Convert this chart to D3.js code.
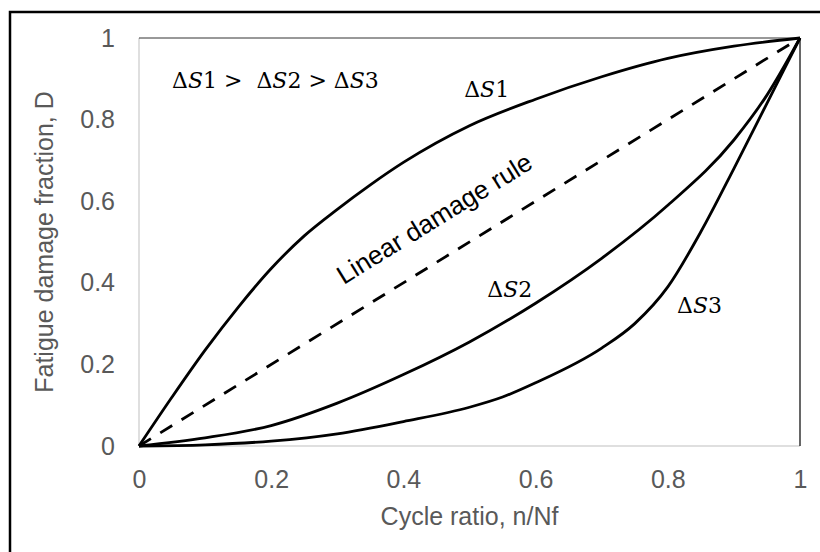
<!DOCTYPE html>
<html>
<head>
<meta charset="utf-8">
<script src="https://cdn.jsdelivr.net/npm/d3@7"></script>
<style>
  body { margin: 0; background: #fff; }
  text { font-family: "Liberation Sans", Arial, sans-serif; }
  .math { font-family: "DejaVu Serif", "Liberation Serif", serif; }
</style>
</head>
<body>
<div id="chart"></div>
<script>
// data
const xTicks = [0, 0.2, 0.4, 0.6, 0.8, 1];
const yTicks = [0, 0.2, 0.4, 0.6, 0.8, 1];

const s1X = [0, 0.05, 0.1, 0.15, 0.2, 0.25, 0.3, 0.35, 0.4, 0.5, 0.6, 0.7, 0.8, 0.9, 1];
const s1Y = [0, 0.12, 0.235, 0.34, 0.435, 0.515, 0.58, 0.64, 0.695, 0.785, 0.85, 0.905, 0.95, 0.98, 1];

const s2X = [0, 0.1, 0.2, 0.3, 0.4, 0.5, 0.6, 0.7, 0.8, 0.9, 0.95, 1];
const s2Y = [0, 0.02, 0.05, 0.105, 0.175, 0.255, 0.35, 0.46, 0.59, 0.75, 0.86, 1];

const s3X = [0, 0.1, 0.2, 0.3, 0.4, 0.5, 0.55, 0.6, 0.7, 0.75, 0.8, 0.85, 0.9, 0.95, 1];
const s3Y = [0, 0.003, 0.012, 0.03, 0.06, 0.095, 0.12, 0.155, 0.24, 0.3, 0.39, 0.525, 0.68, 0.84, 1];

const linX = [0, 1];
const linY = [0, 1];

const W = 820, H = 552;
const margin = { top: 38, right: 20, bottom: 106, left: 139 };
const width = W - margin.left - margin.right;
const height = H - margin.top - margin.bottom;

const svg = d3.select("#chart").append("svg")
    .attr("width", W)
    .attr("height", H);

// outer frame (runs off the right and bottom edges)
svg.append("rect")
    .attr("x", 10).attr("y", 12)
    .attr("width", W).attr("height", H)
    .attr("fill", "none")
    .attr("stroke", "#000")
    .attr("stroke-width", 2.5);

const g = svg.append("g")
    .attr("transform", `translate(${margin.left},${margin.top})`);

const x = d3.scaleLinear().domain([0, 1]).range([0, width]);
const y = d3.scaleLinear().domain([0, 1]).range([height, 0]);

// plot area border: grey left/bottom, dark top/right
g.append("line").attr("x1", 0).attr("x2", 0).attr("y1", 0).attr("y2", height)
    .attr("stroke", "#bfbfbf").attr("stroke-width", 1);
g.append("line").attr("x1", 0).attr("x2", width).attr("y1", height).attr("y2", height)
    .attr("stroke", "#bfbfbf").attr("stroke-width", 1);
g.append("line").attr("x1", 0).attr("x2", width).attr("y1", 0).attr("y2", 0)
    .attr("stroke", "#333").attr("stroke-width", 1);
g.append("line").attr("x1", width).attr("x2", width).attr("y1", 0).attr("y2", height)
    .attr("stroke", "#000").attr("stroke-width", 1.2);

// axes
const xAxis = g.append("g")
    .attr("transform", `translate(0,${height})`)
    .call(d3.axisBottom(x).tickValues(xTicks).tickSize(0).tickPadding(24)
        .tickFormat(d3.format("")));
const yAxis = g.append("g")
    .call(d3.axisLeft(y).tickValues(yTicks).tickSize(0).tickPadding(24)
        .tickFormat(d3.format("")));
[xAxis, yAxis].forEach(a => {
    a.select(".domain").remove();
    a.selectAll("text")
        .style("font-family", "'Liberation Sans', Arial, sans-serif")
        .style("font-size", "25px")
        .attr("fill", "#595959");
});

// axis titles
svg.append("text")
    .attr("x", margin.left + width / 2)
    .attr("y", 525)
    .attr("text-anchor", "middle")
    .attr("fill", "#595959")
    .style("font-size", "25px")
    .text("Cycle ratio, n/Nf");

svg.append("text")
    .attr("transform", `translate(53,${margin.top + height / 2}) rotate(-90)`)
    .attr("text-anchor", "middle")
    .attr("fill", "#595959")
    .style("font-size", "25px")
    .text("Fatigue damage fraction, D");

// curves
const line = d3.line()
    .x(d => x(d[0]))
    .y(d => y(d[1]))
    .curve(d3.curveMonotoneX);

const series = [
    { xs: s1X, ys: s1Y, dash: null },
    { xs: s2X, ys: s2Y, dash: null },
    { xs: s3X, ys: s3Y, dash: null },
    { xs: linX, ys: linY, dash: "14,11" }
];

series.forEach(s => {
    g.append("path")
        .datum(s.xs.map((v, i) => [v, s.ys[i]]))
        .attr("d", line)
        .attr("fill", "none")
        .attr("stroke", "#000")
        .attr("stroke-width", 2.8)
        .attr("stroke-dasharray", s.dash);
});

// math labels
function mathLabel(px, py, parts) {
    const t = g.append("text")
        .attr("class", "math")
        .attr("x", px).attr("y", py)
        .attr("fill", "#000")
        .style("font-size", "22px");
    parts.forEach(p => {
        t.append("tspan")
            .style("font-style", p[1] ? "italic" : "normal")
            .text(p[0]);
    });
}

mathLabel(x(0.05), y(0.877), [["Δ", 0], ["S", 1], ["1 >\u00a0\u00a0Δ", 0], ["S", 1], ["2 > Δ", 0], ["S", 1], ["3", 0]]);
mathLabel(x(0.492), y(0.855), [["Δ", 0], ["S", 1], ["1", 0]]);
mathLabel(x(0.527), y(0.365), [["Δ", 0], ["S", 1], ["2", 0]]);
mathLabel(x(0.814), y(0.326), [["Δ", 0], ["S", 1], ["3", 0]]);

// linear rule label
const ang = -Math.atan2(height, width) * 180 / Math.PI;
g.append("text")
    .attr("transform", `translate(${x(0.454)},${y(0.539)}) rotate(${ang})`)
    .attr("text-anchor", "middle")
    .attr("fill", "#000")
    .style("font-size", "26px")
    .text("Linear damage rule");
</script>
</body>
</html>
